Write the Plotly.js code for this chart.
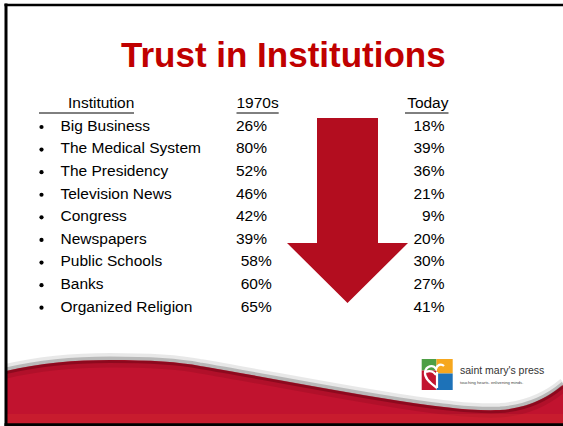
<!DOCTYPE html>
<html><head><meta charset="utf-8">
<script src="https://cdn.plot.ly/plotly-3.0.1.min.js"></script>
<style>html,body{margin:0;padding:0;background:#fff;overflow:hidden}</style>
</head><body><div id="chart" style="width:563px;height:426px"></div>
<script>
// ---- data ----
const slideTitle = 'Trust in Institutions';
const headers = ['Institution', '1970s', 'Today'];
const institutions = ['Big Business','The Medical System','The Presidency','Television News','Congress','Newspapers','Public Schools','Banks','Organized Religion'];
const trust1970s = [26, 80, 52, 46, 42, 39, 58, 60, 65];
const trustToday = [18, 39, 36, 21, 9, 20, 30, 27, 41];
const brandName = "saint mary's press";
const brandTagline = 'touching hearts. enlivening minds.';

// ---- layout helpers (pixel-like coordinates on hidden axes) ----
const W = 563, H = 426;
const row0 = 127, rowStep = 22.59;
const yLo = (H - row0) / rowStep, yHi = -row0 / rowStep;
const FONT = 'Liberation Sans, Arial, sans-serif';
const fs = 15.5;
const pct = v => v + '%';

const traces = [
  { // bullets
    type: 'scatter', mode: 'markers', x: institutions.map(() => 41.5), y: institutions,
    marker: {size: 4.2, color: '#000'}, hoverinfo: 'skip', showlegend: false
  },
  { // institution names
    type: 'scatter', mode: 'text', x: institutions.map(() => 60.5), y: institutions,
    text: institutions, textposition: 'middle right',
    textfont: {family: FONT, size: fs, color: '#000'}, hoverinfo: 'skip', showlegend: false
  },
  { // 1970s
    type: 'scatter', mode: 'text', x: institutions.map((_, i) => i >= 6 ? 240.7 : 236), y: institutions,
    text: trust1970s.map(pct), textposition: 'middle right',
    textfont: {family: FONT, size: fs, color: '#000'}, hoverinfo: 'skip', showlegend: false
  },
  { // today
    type: 'scatter', mode: 'text', x: institutions.map(() => 444.5), y: institutions,
    text: trustToday.map(pct), textposition: 'middle left',
    textfont: {family: FONT, size: fs, color: '#000'}, hoverinfo: 'skip', showlegend: false
  },
  { // headers
    type: 'scatter', mode: 'text', x: [68, 236.5, 448.5], y: [104.5, 104.5, 104.5], yaxis: 'y2',
    text: headers, textposition: ['middle right', 'middle right', 'middle left'],
    textfont: {family: FONT, size: fs, color: '#000'}, hoverinfo: 'skip', showlegend: false
  }
];

const red = '#C1132F';
function edge(dy) {
  const p = [[6,371],[40,363],[75,360],[110,360],[150,360],[180,362],[200,366],[260,376],[330,390],[400,401],[440,407],[470,411],[500,410],[530,408],[550,396],[563,385]];
  const q = p.map(([x, y]) => x + ',' + (y + dy));
  return 'M ' + q[0] + ' C ' + q.slice(1, 4).join(' ') + ' C ' + q.slice(4, 7).join(' ') + ' C ' + q.slice(7, 10).join(' ') + ' C ' + q.slice(10, 13).join(' ') + ' C ' + q.slice(13, 16).join(' ');
}
const S = (o) => Object.assign({xref: 'x', yref: 'y2', layer: 'above'}, o);

const shapes = [
  // header underlines
  S({type: 'line', x0: 39, x1: 134, y0: 113, y1: 113, line: {color: '#000', width: 1}}),
  S({type: 'line', x0: 236.5, x1: 278.7, y0: 113, y1: 113, line: {color: '#000', width: 1}}),
  S({type: 'line', x0: 405, x1: 448.5, y0: 113, y1: 113, line: {color: '#000', width: 1}}),
  // arrow
  S({type: 'path', path: 'M 317,118 L 378,118 L 378,243 L 408,243 L 347.5,303 L 287,243 L 317,243 Z', fillcolor: '#B30D1F', line: {width: 0}}),
  // wave shadow
  S({type: 'path', path: edge(-3), line: {color: 'rgba(0,0,0,0.09)', width: 8}}),
  S({type: 'path', path: edge(-1.5), line: {color: 'rgba(0,0,0,0.2)', width: 4}}),
  // red wave
  S({type: 'path', path: edge(0) + ' L 563,424 L 6,424 Z', fillcolor: red, line: {width: 0}}),
  S({type: 'path', path: edge(4), line: {color: 'rgba(90,0,15,0.15)', width: 7}}),
  S({type: 'path', path: edge(1.5), line: {color: 'rgba(90,0,15,0.42)', width: 3}}),
  S({type: 'rect', x0: 6, x1: 563, y0: 414, y1: 424, fillcolor: 'rgba(215,45,45,0.35)', line: {width: 0}}),
  // logo
  S({type: 'rect', x0: 421.7, x1: 436.5, y0: 359, y1: 370.5, fillcolor: '#4E9F45', line: {width: 0}}),
  S({type: 'rect', x0: 436.5, x1: 452.7, y0: 359, y1: 373.5, fillcolor: '#F6A71E', line: {width: 0}}),
  S({type: 'rect', x0: 421.7, x1: 436.5, y0: 370.5, y1: 390, fillcolor: '#C2142F', line: {width: 0}}),
  S({type: 'rect', x0: 436.5, x1: 452.7, y0: 373.5, y1: 390, fillcolor: '#1D72B8', line: {width: 0}}),
  S({type: 'path', path: 'M 437,388 C 430,383 424,378 425,372 C 426,366 433,364 436,369 C 437,365 441,363 444,366 M 437,388 L 437,372 M 426,372 C 430,370 434,372 436,375',
     line: {color: '#fff', width: 2.2}}),
  // slide border
  S({type: 'line', x0: 6, x1: 6, y0: 3.5, y1: 426, line: {color: '#000', width: 3}}),
  S({type: 'line', x0: 4.5, x1: 563, y0: 5, y1: 5, line: {color: '#000', width: 2.5}}),
  S({type: 'line', x0: 4.5, x1: 563, y0: 424.8, y1: 424.8, line: {color: '#000', width: 3}})
];

const annotations = [
  {xref: 'x', yref: 'y2', x: 283.5, y: 54, text: slideTitle, showarrow: false, xanchor: 'center', yanchor: 'middle',
   font: {family: FONT, size: 35, color: '#C00000', weight: 700}},
  {xref: 'x', yref: 'y2', x: 458, y: 370, text: brandName, showarrow: false, xanchor: 'left', yanchor: 'middle',
   font: {family: 'Liberation Sans Narrow, Liberation Sans, Arial', size: 10.5, color: '#333'}},
  {xref: 'x', yref: 'y2', x: 458, y: 382, text: brandTagline, showarrow: false, xanchor: 'left', yanchor: 'middle',
   font: {family: FONT, size: 4.2, color: '#444'}}
];

const layout = {
  width: W, height: H, margin: {l: 0, r: 0, t: 0, b: 0},
  paper_bgcolor: '#fff', plot_bgcolor: '#fff', showlegend: false,
  xaxis: {range: [0, W], visible: false, fixedrange: true},
  yaxis: {type: 'category', categoryarray: institutions, range: [yLo, yHi], visible: false, fixedrange: true},
  yaxis2: {overlaying: 'y', range: [H, 0], visible: false, fixedrange: true},
  shapes: shapes, annotations: annotations
};

Plotly.newPlot('chart', traces, layout, {displayModeBar: false, staticPlot: true});
</script></body></html>
